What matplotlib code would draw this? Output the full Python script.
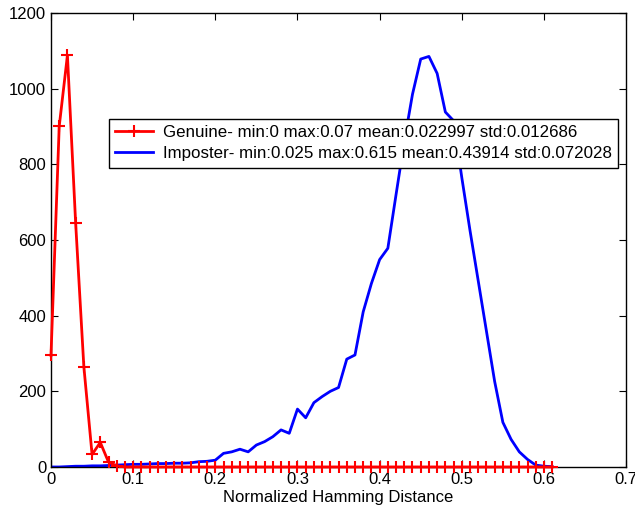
import numpy as np
import matplotlib.pyplot as plt

# Hamming distance bins (0.01 apart)
hd = np.round(np.arange(0, 0.62, 0.01), 2)

genuine = [295, 900, 1088, 645, 265, 33, 65, 13, 3] + [0] * 53

imposter = [0, 0, 1, 2, 2, 3, 3, 4, 5, 6,
            7, 7, 8, 9, 9, 10, 10, 11, 14, 15,
            18, 36, 40, 47, 40, 58, 67, 80, 98, 89,
            153, 130, 170, 186, 200, 210, 285, 296, 410, 485,
            548, 578, 720, 860, 985, 1078, 1085, 1040, 938, 915,
            765, 625, 492, 359, 226, 118, 73, 40, 20, 5,
            2, 1]

gen_label = 'Genuine- min:0 max:0.07 mean:0.022997 std:0.012686'
imp_label = 'Imposter- min:0.025 max:0.615 mean:0.43914 std:0.072028'

plt.rcParams['font.family'] = ['Liberation Sans', 'DejaVu Sans']

fig = plt.figure(figsize=(6.35, 5.16), dpi=100)
ax = fig.add_axes([0.0803, 0.095, 0.9057, 0.88])

ax.plot(hd, genuine, color='red', lw=2, marker='+', ms=9, mew=1.5,
        label=gen_label, clip_on=False, zorder=3)
ax.plot(hd, imposter, color='blue', lw=2, label=imp_label, zorder=2)

ax.set_xlim(0, 0.7)
ax.set_ylim(0, 1200)
ax.set_xticks(np.arange(0, 0.71, 0.1))
ax.set_xticklabels(['0', '0.1', '0.2', '0.3', '0.4', '0.5', '0.6', '0.7'])
ax.set_yticks(range(0, 1201, 200))
ax.tick_params(direction='in', top=True, right=True, length=5, labelsize=12)
for s in ax.spines.values():
    s.set_linewidth(1)
ax.set_xlabel('Normalized Hamming Distance', fontsize=12, labelpad=2)

leg = ax.legend(loc='upper right', bbox_to_anchor=(0.986, 0.7665), borderaxespad=0,
                fontsize=12.2, fancybox=False, edgecolor='black', framealpha=1,
                handlelength=2.2, labelspacing=0.34, borderpad=0.38, handletextpad=0.6)
leg.get_frame().set_linewidth(1)
leg.set_zorder(5)

fig.savefig('out.png', dpi=100)
